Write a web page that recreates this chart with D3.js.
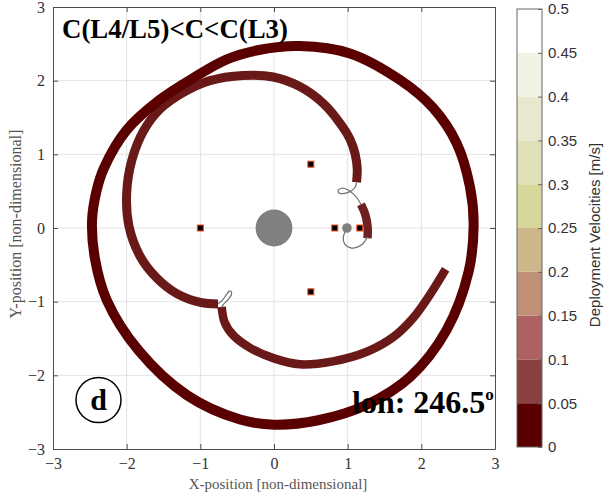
<!DOCTYPE html>
<html>
<head>
<meta charset="utf-8">
<script src="https://cdn.jsdelivr.net/npm/d3@7"></script>
<style>
  html, body { margin: 0; padding: 0; background: #fff; }
  svg { display: block; }
</style>
</head>
<body>
<svg id="chart" width="614" height="497"></svg>
<script>
// ---- data -------------------------------------------------------------
// Deployment-velocity colour bands [m/s]
const velocityBreaks = [0.05, 0.10, 0.15, 0.20, 0.25, 0.30, 0.35, 0.40, 0.45];
const velocityColors = ["#5a0000", "#8a4040", "#af6060", "#c09076", "#cdb689",
                        "#d7d79c", "#dfe0b8", "#e7e8cd", "#f1f2e4", "#ffffff"];
const colorbarTicks = [0, 0.05, 0.1, 0.15, 0.2, 0.25, 0.3, 0.35, 0.4, 0.45, 0.5];
const axisTicks = [-3, -2, -1, 0, 1, 2, 3];

// Outer revolution of the trajectory (closed), [x, y, velocity]
const outerArc = [
  [-2.47, 0.10, 0.02], [-2.41, 0.50, 0.02], [-2.31, 0.81, 0.02], [-2.00, 1.33, 0.02],
  [-1.55, 1.74, 0.02], [-1.09, 2.04, 0.02], [-0.64, 2.29, 0.02], [-0.19, 2.42, 0.02],
  [0.35, 2.47, 0.02], [1.03, 2.37, 0.02], [1.71, 2.01, 0.02], [2.16, 1.63, 0.02],
  [2.48, 1.15, 0.02], [2.66, 0.56, 0.02], [2.71, 0.05, 0.02], [2.64, -0.60, 0.02],
  [2.34, -1.39, 0.02], [1.85, -2.02, 0.02], [1.26, -2.40, 0.02], [0.60, -2.61, 0.02],
  [0.00, -2.67, 0.02], [-0.46, -2.60, 0.02], [-1.18, -2.27, 0.02], [-1.84, -1.66, 0.02],
  [-2.27, -0.98, 0.02], [-2.43, -0.42, 0.02]
];
// Inner arc leaving the lunar region and sweeping round to the lower-left loop
const innerUpperArc = [
  [1.12, 0.62, 0.02], [1.13, 0.80, 0.02], [1.10, 1.01, 0.02], [1.03, 1.21, 0.02],
  [0.92, 1.39, 0.02], [0.67, 1.69, 0.02], [0.35, 1.92, 0.02], [-0.01, 2.05, 0.02],
  [-0.42, 2.07, 0.02], [-0.87, 2.00, 0.02], [-1.23, 1.84, 0.02], [-1.55, 1.61, 0.02],
  [-1.77, 1.32, 0.02], [-1.93, 0.92, 0.02], [-2.00, 0.47, 0.02], [-1.97, 0.03, 0.02],
  [-1.82, -0.38, 0.02], [-1.59, -0.68, 0.02], [-1.32, -0.89, 0.02], [-1.00, -1.01, 0.02],
  [-0.76, -1.03, 0.02]
];
// Inner arc after the lower-left loop
const innerLowerArc = [
  [-0.71, -1.07, 0.02], [-0.67, -1.28, 0.02], [-0.55, -1.46, 0.02], [-0.32, -1.63, 0.02],
  [0.00, -1.77, 0.02], [0.35, -1.85, 0.02], [0.80, -1.81, 0.02], [1.26, -1.68, 0.02],
  [1.62, -1.48, 0.02], [1.89, -1.22, 0.02], [2.12, -0.90, 0.02], [2.33, -0.56, 0.02]
];
// Short arc just beyond the Moon
const lunarArc = [
  [1.18, 0.32, 0.02], [1.24, 0.18, 0.02], [1.27, 0.02, 0.02], [1.27, -0.14, 0.02]
];
// Thin coast segments (no deployment)
const coastNearMoon = [
  [1.12, 0.62], [1.10, 0.55], [1.04, 0.50], [0.96, 0.47], [0.89, 0.47], [0.87, 0.51],
  [0.92, 0.54], [1.00, 0.52], [1.08, 0.46], [1.14, 0.39], [1.18, 0.32]
];
const coastMoonDeparture = [
  [0.97, -0.04], [0.94, -0.13], [0.96, -0.22], [1.04, -0.27], [1.13, -0.26],
  [1.21, -0.21], [1.27, -0.12]
];
const coastLowerLoop = [
  [-0.76, -1.03], [-0.70, -0.98], [-0.65, -0.91], [-0.61, -0.86], [-0.58, -0.86],
  [-0.58, -0.91], [-0.63, -0.98], [-0.69, -1.04], [-0.71, -1.08]
];
// Primaries and Lagrange points
const earth = [0, 0];
const moon = [0.99, 0];
const lagrangePoints = [[-1, 0], [0.5, 0.866], [0.5, -0.866], [0.825, 0], [1.165, 0]];

// ---- layout -----------------------------------------------------------
const svg = d3.select("#chart");
const x = d3.scaleLinear().domain([-3, 3]).range([53, 495]);
const y = d3.scaleLinear().domain([-3, 3]).range([449, 7]);
const unitPx = x(1) - x(0);
const velColor = d3.scaleThreshold().domain(velocityBreaks).range(velocityColors);
const serif = "'Liberation Serif', 'Times New Roman', serif";
const sans = "'Liberation Sans', Arial, sans-serif";

// grid
const grid = svg.append("g");
grid.selectAll(".gx").data(axisTicks.slice(1, -1)).join("line")
  .attr("x1", d => x(d)).attr("x2", d => x(d)).attr("y1", y(3)).attr("y2", y(-3))
  .attr("stroke", "#e3e3e3").attr("stroke-width", 1);
grid.selectAll(".gy").data(axisTicks.slice(1, -1)).join("line")
  .attr("y1", d => y(d)).attr("y2", d => y(d)).attr("x1", x(-3)).attr("x2", x(3))
  .attr("stroke", "#e3e3e3").attr("stroke-width", 1);

// trajectory bands
const line = d3.line().x(d => x(d[0])).y(d => y(d[1])).curve(d3.curveCatmullRom.alpha(0.5));
const lineClosed = d3.line().x(d => x(d[0])).y(d => y(d[1])).curve(d3.curveCatmullRomClosed.alpha(0.5));
const bandColor = d => velColor(d3.mean(d, p => p[2]));
const bands = svg.append("g").attr("fill", "none").attr("stroke-linecap", "butt");
bands.append("path").datum(outerArc).attr("d", lineClosed)
  .attr("stroke", bandColor).attr("stroke-width", 10);
bands.append("path").datum(innerUpperArc).attr("d", line)
  .attr("stroke", bandColor).attr("stroke-width", 9).attr("stroke-opacity", 0.9);
bands.append("path").datum(innerLowerArc).attr("d", line)
  .attr("stroke", bandColor).attr("stroke-width", 8.5).attr("stroke-opacity", 0.9);
bands.append("path").datum(lunarArc).attr("d", line)
  .attr("stroke", bandColor).attr("stroke-width", 8.5).attr("stroke-opacity", 0.87);

// coast arcs
const coast = svg.append("g").attr("fill", "none").attr("stroke", "#6e6e6e").attr("stroke-width", 1.2);
[coastNearMoon, coastMoonDeparture, coastLowerLoop].forEach(seg => {
  coast.append("path").datum(seg).attr("d", line);
});

// Earth and Moon
svg.append("circle").attr("cx", x(earth[0])).attr("cy", y(earth[1]))
  .attr("r", 0.25 * unitPx).attr("fill", "#808080");
svg.append("circle").attr("cx", x(moon[0])).attr("cy", y(moon[1]))
  .attr("r", 0.065 * unitPx).attr("fill", "#808080");

// Lagrange points
svg.append("g").selectAll("rect").data(lagrangePoints).join("rect")
  .attr("x", d => x(d[0]) - 3).attr("y", d => y(d[1]) - 3)
  .attr("width", 6).attr("height", 6)
  .attr("fill", "#000").attr("stroke", "#ff4a1a").attr("stroke-width", 1);

// axes
function styleAxis(g) {
  g.select(".domain").attr("stroke", "#4d4d4d");
  g.selectAll(".tick line").attr("stroke", "#4d4d4d");
  g.selectAll("text").attr("font-family", serif).attr("font-size", 16).attr("fill", "#333");
}
svg.append("g").attr("transform", `translate(0,${y(-3)})`)
  .call(d3.axisBottom(x).tickValues(axisTicks).tickFormat(d3.format("d")).tickSize(-5).tickPadding(9).tickSizeOuter(0))
  .call(styleAxis);
svg.append("g").attr("transform", `translate(${x(-3)},0)`)
  .call(d3.axisLeft(y).tickValues(axisTicks).tickFormat(d3.format("d")).tickSize(-5).tickPadding(8).tickSizeOuter(0))
  .call(styleAxis);
svg.append("g").attr("transform", `translate(0,${y(3)})`)
  .call(d3.axisTop(x).tickValues(axisTicks).tickFormat("").tickSize(-5).tickSizeOuter(0))
  .call(styleAxis);
svg.append("g").attr("transform", `translate(${x(3)},0)`)
  .call(d3.axisRight(y).tickValues(axisTicks).tickFormat("").tickSize(-5).tickSizeOuter(0))
  .call(styleAxis);

// axis titles
svg.append("text").attr("x", 278).attr("y", 489).attr("text-anchor", "middle")
  .attr("font-family", serif).attr("font-size", 15).attr("fill", "#555")
  .text("X-position [non-dimensional]");
svg.append("text").attr("transform", "translate(21,224) rotate(-90)").attr("text-anchor", "middle")
  .attr("font-family", serif).attr("font-size", 16).attr("fill", "#555")
  .text("Y-position [non-dimensional]");

// annotations
svg.append("text").attr("x", 62).attr("y", 38)
  .attr("font-family", serif).attr("font-weight", "bold").attr("font-size", 28)
  .attr("textLength", 226).attr("lengthAdjust", "spacingAndGlyphs").attr("fill", "#000")
  .text("C(L4/L5)<C<C(L3)");
const lon = svg.append("text").attr("x", 352).attr("y", 413)
  .attr("font-family", serif).attr("font-weight", "bold").attr("font-size", 32).attr("fill", "#000");
lon.append("tspan").text("lon: 246.5");
lon.append("tspan").attr("font-size", 17).attr("dy", -13).text("o");
svg.append("circle").attr("cx", 98.5).attr("cy", 400).attr("r", 22.5)
  .attr("fill", "none").attr("stroke", "#000").attr("stroke-width", 1.5);
svg.append("text").attr("x", 98.5).attr("y", 410).attr("text-anchor", "middle")
  .attr("font-family", serif).attr("font-weight", "bold").attr("font-size", 30).attr("fill", "#000")
  .text("d");

// colorbar
const cbX = 517, cbW = 25;
const cy = d3.scaleLinear().domain([0, 0.5]).range([447, 9]);
const cbBands = d3.range(velocityColors.length).map(i => ({
  lo: i === 0 ? 0 : velocityBreaks[i - 1],
  hi: i === velocityBreaks.length ? 0.5 : velocityBreaks[i],
  color: velocityColors[i]
}));
const cb = svg.append("g");
cb.selectAll("rect").data(cbBands).join("rect")
  .attr("x", cbX).attr("width", cbW)
  .attr("y", d => cy(d.hi)).attr("height", d => cy(d.lo) - cy(d.hi))
  .attr("fill", d => d.color);
cb.append("rect").attr("x", cbX).attr("y", cy(0.5)).attr("width", cbW).attr("height", cy(0) - cy(0.5))
  .attr("fill", "none").attr("stroke", "#666").attr("stroke-width", 1);
svg.append("g").attr("transform", `translate(${cbX + cbW},0)`)
  .call(d3.axisRight(cy).tickValues(colorbarTicks).tickFormat(d => String(d)).tickSize(-4).tickPadding(6).tickSizeOuter(0))
  .call(g => {
    g.select(".domain").remove();
    g.selectAll(".tick line").attr("stroke", "#666");
    g.selectAll("text").attr("font-family", sans).attr("font-size", 15).attr("fill", "#333");
  });
svg.append("text").attr("transform", "translate(600,235) rotate(-90)").attr("text-anchor", "middle")
  .attr("font-family", sans).attr("font-size", 15).attr("fill", "#333")
  .text("Deployment Velocities [m/s]");
</script>
</body>
</html>
